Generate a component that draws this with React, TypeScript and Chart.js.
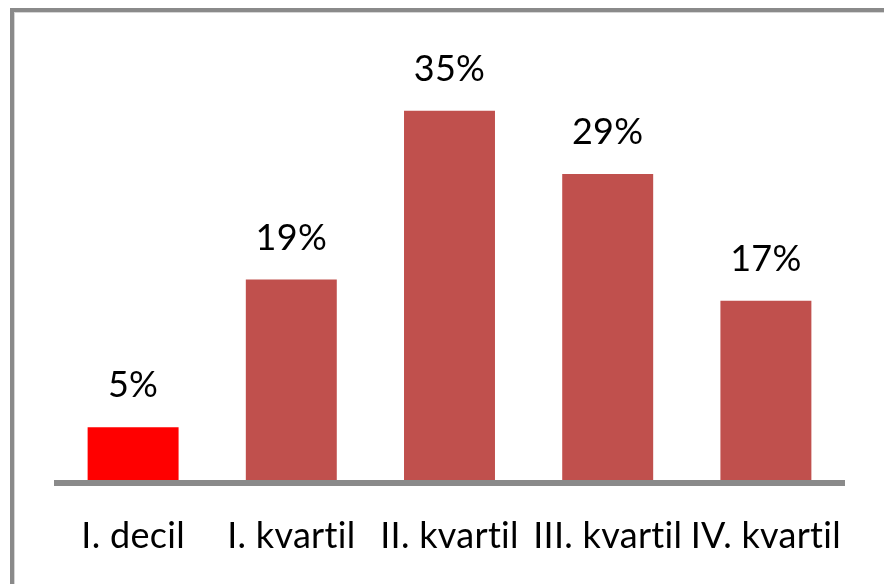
import React, { useEffect, useRef } from "react";
import { Chart, registerables } from "chart.js";

Chart.register(...registerables);

const categories = ["I. decil", "I. kvartil", "II. kvartil", "III. kvartil", "IV. kvartil"];
const values = [5, 19, 35, 29, 17];
const valueLabels = ["5%", "19%", "35%", "29%", "17%"];

const BAR_COLOR = "#C0504D";
const HIGHLIGHT_COLOR = "#FF0000";
const FONT_FAMILY = "Lato, 'Open Sans', sans-serif";
const FONT_SIZE = 36;

export default function App() {
  const ref = useRef<HTMLCanvasElement | null>(null);

  useEffect(() => {
    const canvas = ref.current;
    if (!canvas) return;

    const framePlugin = {
      id: "frame",
      beforeDraw(chart: any) {
        const ctx = chart.ctx;
        ctx.save();
        ctx.fillStyle = "#8a8a8a";
        ctx.fillRect(10, 8, 874, 4);
        ctx.fillRect(10, 8, 4, 576);
        ctx.fillStyle = "#d6d6d6";
        ctx.fillRect(14, 12, 870, 1);
        ctx.fillRect(14, 12, 1, 572);
        ctx.restore();
        // small letter spacing disables the "ti" ligature of the fallback font
        (ctx as any).letterSpacing = "0.3px";
      },
      afterDatasetsDraw(chart: any) {
        const ctx = chart.ctx;
        const area = chart.chartArea;
        ctx.save();
        ctx.fillStyle = "#8a8a8a";
        ctx.fillRect(area.left, area.bottom, area.right - area.left, 6);
        const meta = chart.getDatasetMeta(0);
        ctx.fillStyle = "#000000";
        ctx.font = `${FONT_SIZE}px ${FONT_FAMILY}`;
        ctx.textAlign = "center";
        ctx.textBaseline = "alphabetic";
        meta.data.forEach((bar: any, i: number) => {
          ctx.fillText(valueLabels[i], bar.x, bar.y - 30);
        });
        ctx.restore();
      },
    };

    const chart = new Chart(canvas, {
      type: "bar",
      data: {
        labels: categories,
        datasets: [
          {
            data: values,
            backgroundColor: values.map((_, i) => (i === 0 ? HIGHLIGHT_COLOR : BAR_COLOR)),
            borderWidth: 0,
            categoryPercentage: 1,
            barPercentage: 0.575,
          },
        ],
      },
      options: {
        animation: false,
        responsive: false,
        maintainAspectRatio: false,
        layout: { padding: { left: 54, right: 39, top: 58, bottom: 0 } },
        plugins: {
          legend: { display: false },
          tooltip: { enabled: false },
          title: { display: false },
        },
        scales: {
          x: {
            grid: { display: false, drawTicks: false },
            border: { display: false },
            afterFit(scale: any) {
              scale.height = 104;
            },
            ticks: {
              color: "#000000",
              font: { family: FONT_FAMILY, size: FONT_SIZE },
              padding: 35,
              maxRotation: 0,
              autoSkip: false,
            },
          },
          y: {
            display: false,
            min: 0,
            max: 40,
          },
        },
      },
      plugins: [framePlugin],
    });

    return () => chart.destroy();
  }, []);

  return (
    <div style={{ position: "fixed", left: 0, top: 0, width: 884, height: 584, background: "#ffffff" }}>
      <canvas ref={ref} width={884} height={584} style={{ width: 884, height: 584, display: "block" }} />
    </div>
  );
}
